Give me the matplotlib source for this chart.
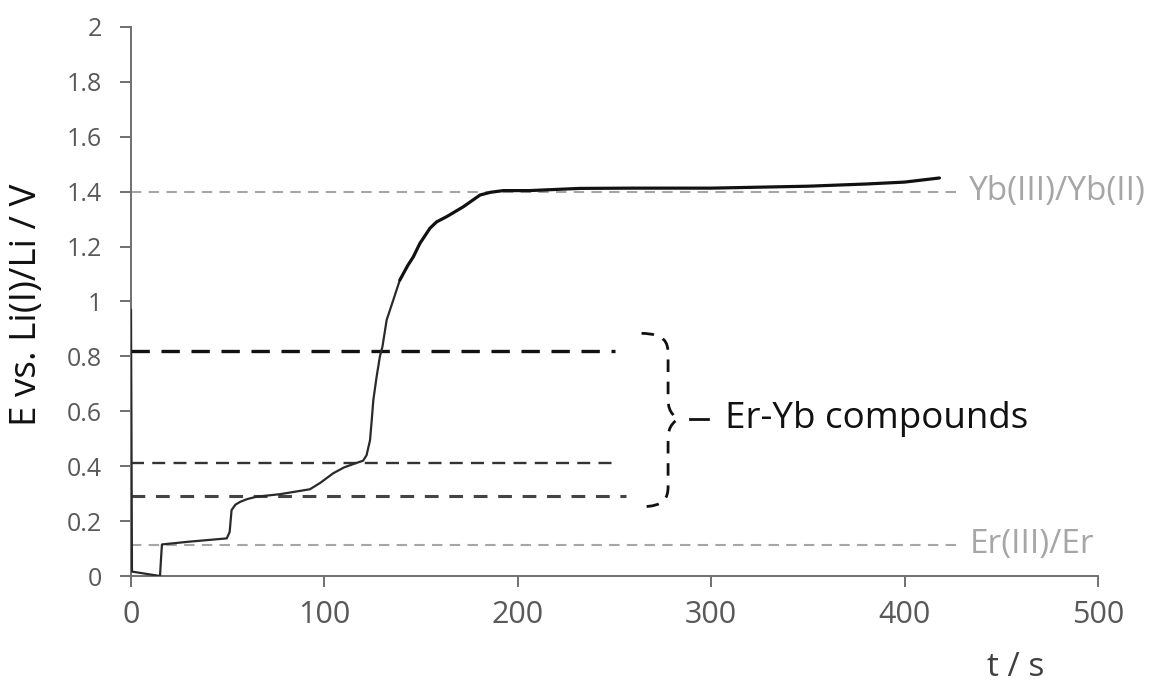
import matplotlib
matplotlib.use("Agg")
import matplotlib.pyplot as plt
from matplotlib.path import Path
from matplotlib.patches import PathPatch

plt.rcParams['font.family'] = ['Open Sans', 'DejaVu Sans']

# ---- data ----
t = [0, 0.5, 15, 15.5, 16, 30, 49.5, 51, 52, 54, 56.4, 60, 65, 77, 92.5, 98, 104.5, 110,
     115, 120, 121.8, 123.6, 124.5, 125.3, 127, 128.7, 130, 132.2, 133.9, 135.6, 139,
     143, 146, 149.4, 154.6, 158, 163.2, 171.8, 180.5, 186, 192.5, 206, 232, 260, 300,
     350, 380, 400, 418]
E = [0.97, 0.016, 0.0, 0.06, 0.115, 0.125, 0.137, 0.16, 0.24, 0.26, 0.27, 0.28, 0.289, 0.298,
     0.316, 0.34, 0.374, 0.395, 0.408, 0.42, 0.44, 0.495, 0.57, 0.641, 0.726, 0.80, 0.835,
     0.933, 0.969, 1.005, 1.078, 1.13, 1.163, 1.212, 1.267, 1.29, 1.309, 1.345, 1.388, 1.398,
     1.404, 1.404, 1.412, 1.413, 1.413, 1.42, 1.428, 1.435, 1.45]

ref_levels = [1.40, 0.113]
ref_labels = ['Yb(III)/Yb(II)', 'Er(III)/Er']
ref_tend = 428

compound_levels = [0.82, 0.41, 0.29]
compound_tend = [250, 250, 256]
compound_label = 'Er-Yb compounds'

xticks = [0, 100, 200, 300, 400, 500]
yticks = [0, 0.2, 0.4, 0.6, 0.8, 1.0, 1.2, 1.4, 1.6, 1.8, 2.0]
ytick_labels = ['0', '0.2', '0.4', '0.6', '0.8', '1', '1.2', '1.4', '1.6', '1.8', '2']

# brace geometry (data units)
brace_t0, brace_t1, brace_tip = 264, 277.7, 283
brace_top, brace_bot, brace_mid = 0.884, 0.252, 0.572

W, H = 1153, 684
fig = plt.figure(figsize=(W / 100, H / 100), dpi=100)
ax = fig.add_axes([131 / W, 1 - 576 / H, (1098 - 131) / W, (576 - 27) / H])

tick_color = '#595959'
gray = '#a6a6a6'
axis_color = '#707070'

# reference lines
for lev, lab in zip(ref_levels, ref_labels):
    ax.plot([0, ref_tend], [lev, lev], color=gray, lw=1.5, dashes=(5, 3.5), zorder=1)
    ax.text(ref_tend + 5.5, lev, lab, color=gray, fontsize=24, va='center', ha='left',
            clip_on=False)

# compound lines
styles = [dict(lw=2.4, color='#111111', dashes=(5.5, 3.5)),
          dict(lw=1.7, color='#333333', dashes=(5.5, 3.5)),
          dict(lw=2.2, color='#444444', dashes=(4.5, 3.5))]
for lev, te, st in zip(compound_levels, compound_tend, styles):
    ax.plot([0, te], [lev, lev], zorder=2, **st)

# curve
split = 30
ax.plot(t[:split + 1], E[:split + 1], color='#2a2a2a', lw=1.6, zorder=3, solid_capstyle='round')
ax.plot(t[split:], E[split:], color='#111111', lw=2.3, zorder=3, solid_capstyle='round')

# brace
verts = [(brace_t0, brace_top),
         (brace_t1 - 2, brace_top - 0.002), (brace_t1, brace_top - 0.03), (brace_t1, brace_top - 0.075),
         (brace_t1, brace_mid + 0.07),
         (brace_t1, brace_mid + 0.02), (brace_tip - 1, brace_mid + 0.005), (brace_tip, brace_mid),
         (brace_tip - 1, brace_mid - 0.005), (brace_t1, brace_mid - 0.02), (brace_t1, brace_mid - 0.07),
         (brace_t1, brace_bot + 0.075),
         (brace_t1, brace_bot + 0.03), (brace_t1 - 2, brace_bot + 0.002), (brace_t0, brace_bot)]
codes = [Path.MOVETO, Path.CURVE4, Path.CURVE4, Path.CURVE4, Path.LINETO,
         Path.CURVE4, Path.CURVE4, Path.CURVE4, Path.CURVE4, Path.CURVE4, Path.CURVE4,
         Path.LINETO, Path.CURVE4, Path.CURVE4, Path.CURVE4]
ax.add_patch(PathPatch(Path(verts, codes), fill=False, lw=2.0, ec='#111111',
                       linestyle=(0, (4.5, 3.5)), zorder=2))
ax.plot([289, 298.3], [brace_mid, brace_mid], color='#111111', lw=2.0, zorder=2)
ax.text(307, brace_mid, compound_label, fontsize=26.5, va='center', ha='left', color='#111111')

ax.set_xlim(0, 500)
ax.set_ylim(0, 2)
ax.set_xticks(xticks)
ax.set_yticks(yticks)
ax.set_yticklabels(ytick_labels)
for s in ['top', 'right']:
    ax.spines[s].set_visible(False)
for s in ['left', 'bottom']:
    ax.spines[s].set_color(axis_color)
    ax.spines[s].set_linewidth(1.4)
ax.tick_params(axis='both', colors=axis_color, labelcolor=tick_color,
               length=8, width=1.4, direction='out')
ax.tick_params(axis='x', pad=9, labelsize=22)
ax.tick_params(axis='y', pad=13, labelsize=18)

fig.text(27 / W, 1 - 305 / H, 'E vs. Li(I)/Li / V', fontsize=26.5, color='#111111',
         rotation=90, ha='center', va='center')
fig.text(987 / W, 1 - 667 / H, 't / s', fontsize=24, color='#404040', ha='left', va='center')

fig.savefig('out.png', dpi=100)
